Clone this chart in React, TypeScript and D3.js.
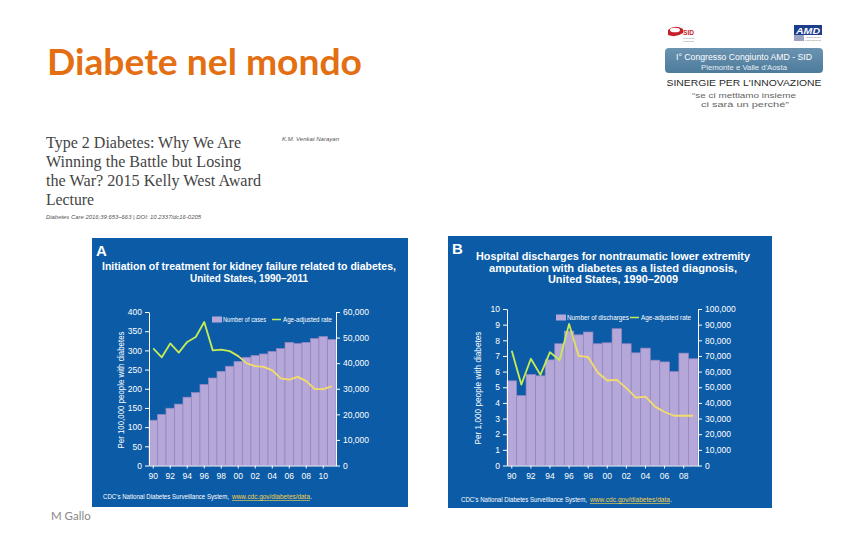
import React, { useEffect, useRef } from 'react';
import * as d3 from 'd3';

// Panel A: kidney failure treatment, 1990-2011
const yearsA = ['1990', '1991', '1992', '1993', '1994', '1995', '1996', '1997', '1998', '1999', '2000',
  '2001', '2002', '2003', '2004', '2005', '2006', '2007', '2008', '2009', '2010', '2011'];
const casesA = [17700, 20000, 22400, 24000, 26700, 28500, 31700, 34200, 36800, 38800, 40700,
  42300, 43000, 43600, 44600, 45700, 48100, 47700, 48100, 49600, 50400, 49300];
const rateA = [305, 282, 318, 294, 322, 335, 374, 300, 302, 298, 285,
  266, 259, 257, 248, 227, 224, 231, 220, 199, 199, 206];
const leftTicksA = [0, 50, 100, 150, 200, 250, 300, 350, 400];
const rightTicksA = [0, 10000, 20000, 30000, 40000, 50000, 60000];
const labelYearsA = ['1990', '1992', '1994', '1996', '1998', '2000', '2002', '2004', '2006', '2008', '2010'];

// Panel B: lower extremity amputation discharges, 1990-2009
const yearsB = ['1990', '1991', '1992', '1993', '1994', '1995', '1996', '1997', '1998', '1999', '2000',
  '2001', '2002', '2003', '2004', '2005', '2006', '2007', '2008', '2009'];
const dischargesB = [54100, 44700, 58100, 57300, 67500, 77800, 85900, 83500, 85300, 77800, 78400,
  87400, 77800, 72000, 75000, 67300, 66200, 60000, 71800, 68200];
const rateB = [7.33, 5.17, 6.82, 5.79, 7.24, 6.73, 9.04, 7.0, 6.92, 5.94, 5.43,
  5.47, 4.94, 4.34, 4.4, 3.76, 3.42, 3.18, 3.18, 3.18];
const leftTicksB = [0, 1, 2, 3, 4, 5, 6, 7, 8, 9, 10];
const rightTicksB = [0, 10000, 20000, 30000, 40000, 50000, 60000, 70000, 80000, 90000, 100000];
const labelYearsB = ['1990', '1992', '1994', '1996', '1998', '2000', '2002', '2004', '2006', '2008'];

const BLUE = '#0c5ba6';
const BAR = '#b5a7d7';
const BAR_EDGE = '#9485c2';
const GREEN = '#c4ec55';
const YELLOW = '#f3dc6a';
const SANS = '"Liberation Sans", Arial, sans-serif';

const fitText = (g, x, y, str, size, len, opts: any = {}) => {
  const t = g.append('text')
    .attr('x', x).attr('y', y)
    .attr('font-family', opts.family || SANS)
    .attr('font-size', size)
    .attr('font-weight', opts.weight || 'normal')
    .attr('font-style', opts.style || 'normal')
    .attr('fill', opts.fill || '#fff')
    .attr('text-anchor', opts.anchor || 'start')
    .text(str);
  if (len) t.attr('textLength', len).attr('lengthAdjust', 'spacingAndGlyphs');
  if (opts.deco) t.attr('text-decoration', opts.deco);
  return t;
};

const drawPanel = (svg, p) => {
  const g = svg.append('g');
  g.append('rect').attr('x', p.box[0]).attr('y', p.box[1])
    .attr('width', p.box[2] - p.box[0]).attr('height', p.box[3] - p.box[1]).attr('fill', BLUE);

  fitText(g, p.box[0] + 4, p.box[1] + 18, p.letter, 15, 0, { weight: 'bold' });
  p.title.forEach((line, i) => {
    fitText(g, p.titleX, p.titleY[i], line[0], 11.5, line[1], { weight: 'bold', anchor: 'middle' });
  });

  const x = d3.scaleBand().domain(p.years).range([p.plot[0], p.plot[2]]);
  const yL = d3.scaleLinear().domain([0, p.leftMax]).range([p.plot[3], p.plot[1]]);
  const yR = d3.scaleLinear().domain([0, p.rightMax]).range([p.plot[3], p.plot[1]]);
  const bw = x.bandwidth();

  // bars (right axis)
  g.selectAll('rect.bar')
    .data(p.bars)
    .enter()
    .append('rect')
    .attr('class', 'bar')
    .attr('x', (d, i) => x(p.years[i]))
    .attr('y', d => yR(d))
    .attr('width', bw)
    .attr('height', d => p.plot[3] - yR(d))
    .attr('fill', BAR)
    .attr('stroke', BAR_EDGE)
    .attr('stroke-width', 0.7);

  // green -> yellow gradient along the rate line
  const grad = svg.append('defs').append('linearGradient')
    .attr('id', 'grad' + p.letter)
    .attr('gradientUnits', 'userSpaceOnUse')
    .attr('x1', x(p.years[p.gradFrom]) + bw / 2).attr('x2', x(p.years[p.gradTo]) + bw / 2)
    .attr('y1', 0).attr('y2', 0);
  grad.append('stop').attr('offset', 0).attr('stop-color', GREEN);
  grad.append('stop').attr('offset', 1).attr('stop-color', YELLOW);

  const line = d3.line()
    .x((d, i) => x(p.years[i]) + bw / 2)
    .y(d => yL(d));
  g.append('path')
    .attr('d', line(p.rate))
    .attr('fill', 'none')
    .attr('stroke', 'url(#grad' + p.letter + ')')
    .attr('stroke-width', 1.8)
    .attr('stroke-linejoin', 'round');

  const styleAxis = a => {
    a.selectAll('path, line').attr('stroke', '#fff').attr('stroke-width', 1);
    a.selectAll('text').attr('fill', '#fff').attr('font-family', SANS).attr('font-size', 8.5);
    a.attr('font-family', SANS);
  };

  const left = g.append('g').attr('transform', `translate(${p.plot[0]},0)`)
    .call(d3.axisLeft(yL).tickValues(p.leftTicks).tickSize(4).tickSizeOuter(0).tickPadding(3));
  styleAxis(left);
  const right = g.append('g').attr('transform', `translate(${p.plot[2]},0)`)
    .call(d3.axisRight(yR).tickValues(p.rightTicks).tickSize(4).tickSizeOuter(0).tickPadding(3)
      .tickFormat(d3.format(',')));
  styleAxis(right);
  const bottom = g.append('g').attr('transform', `translate(0,${p.plot[3]})`)
    .call(d3.axisBottom(x).tickValues(p.labelYears).tickSize(3).tickSizeOuter(0).tickPadding(4)
      .tickFormat(d => d.slice(2)));
  styleAxis(bottom);

  // left axis title
  fitText(g, 0, 0, p.axisTitle, 8.5, p.axisTitleLen, { anchor: 'middle' })
    .attr('transform', `translate(${p.axisTitlePos[0]},${p.axisTitlePos[1]}) rotate(-90)`);

  // legend
  const lg = p.legend;
  g.append('rect').attr('x', lg.sw).attr('y', lg.y - 5.5).attr('width', 10).attr('height', 6).attr('fill', BAR);
  fitText(g, lg.sw + 11, lg.y, lg.barLabel, 7, lg.barLen);
  g.append('line').attr('x1', lg.lw).attr('x2', lg.lw + 9).attr('y1', lg.y - 2.5).attr('y2', lg.y - 2.5)
    .attr('stroke', GREEN).attr('stroke-width', 1.5);
  fitText(g, lg.lw + 11, lg.y, 'Age-adjusted rate', 7, lg.lineLen);

  // source
  fitText(g, p.footer[0], p.footer[1], "CDC's National Diabetes Surveillance System,", 6.5, p.footer[2]);
  fitText(g, p.footer[0] + p.footer[2] + 3, p.footer[1], 'www.cdc.gov/diabetes/data', 6.5, p.footer[3],
    { fill: '#f2d44a', deco: 'underline' });
  fitText(g, p.footer[0] + p.footer[2] + p.footer[3] + 3.5, p.footer[1], '.', 6.5, 0);
};

const App = () => {
  const ref = useRef(null);

  useEffect(() => {
    const svg = d3.select(ref.current);
    svg.selectAll('*').remove();

    svg.append('rect').attr('width', 851).attr('height', 540).attr('fill', '#fff');

    // slide title
    fitText(svg, 47, 75, 'Diabete nel mondo', 36, 315, { family: 'Lato, "Open Sans", sans-serif', weight: 'bold', fill: '#e36f12' });

    // article header
    const art = ['Type 2 Diabetes: Why We Are', 'Winning the Battle but Losing', 'the War? 2015 Kelly West Award', 'Lecture'];
    const artLen = [195, 195, 215, 48];
    art.forEach((s, i) => fitText(svg, 46, 148 + i * 19, s, 17, artLen[i], { family: '"Liberation Serif", serif', fill: '#444' }));
    fitText(svg, 282, 141, 'K.M. Venkat Narayan', 5.5, 57, { style: 'italic', fill: '#555' });
    fitText(svg, 46, 219, 'Diabetes Care 2016;39:653–663 | DOI: 10.2337/dc16-0205', 5.5, 155, { style: 'italic', fill: '#555' });

    // congress logos
    const lg = svg.append('g');
    lg.append('path').attr('d', 'M668,30 Q675,24 683,29 L683,33 Q676,38 668,35 Z').attr('fill', '#c8202a');
    lg.append('ellipse').attr('cx', 675).attr('cy', 30).attr('rx', 5).attr('ry', 2.3).attr('fill', '#fff');
    fitText(lg, 683, 35, 'SID', 8, 11, { weight: 'bold', fill: '#c8202a' });
    fitText(lg, 683, 39, 'Società Italiana', 2.5, 11, { fill: '#777' });
    fitText(lg, 683, 42, 'di Diabetologia', 2.5, 11, { fill: '#777' });
    lg.append('rect').attr('x', 794).attr('y', 25).attr('width', 28).attr('height', 10).attr('fill', '#1d3e8c');
    fitText(lg, 796, 34, 'AMD', 9, 24, { weight: 'bold', style: 'italic', fill: '#fff' });
    lg.append('rect').attr('x', 794).attr('y', 35).attr('width', 10).attr('height', 6).attr('fill', '#9aa3c0');
    fitText(lg, 805, 38, 'Associazione', 2.5, 16, { fill: '#777' });
    fitText(lg, 805, 41, 'Medici Diabetologi', 2.5, 16, { fill: '#777' });
    const cg = svg.append('defs').append('linearGradient').attr('id', 'cong').attr('x1', 0).attr('x2', 0).attr('y1', 0).attr('y2', 1);
    cg.append('stop').attr('offset', 0).attr('stop-color', '#6b93b1');
    cg.append('stop').attr('offset', 1).attr('stop-color', '#4d7b9c');
    lg.append('rect').attr('x', 665).attr('y', 48).attr('width', 158).attr('height', 25).attr('rx', 4).attr('fill', 'url(#cong)');
    fitText(lg, 744, 60, 'I° Congresso Congiunto AMD - SID', 8.5, 136, { anchor: 'middle', fill: '#fff' });
    fitText(lg, 744, 70, "Piemonte e Valle d'Aosta", 6.5, 86, { anchor: 'middle', fill: '#e6eef4' });
    fitText(lg, 744, 86, "SINERGIE PER L'INNOVAZIONE", 9.5, 155, { anchor: 'middle', fill: '#2a2a2a' });
    fitText(lg, 744, 98, '“se ci mettiamo insieme', 8, 104, { anchor: 'middle', fill: '#666' });
    fitText(lg, 745, 107, 'ci sarà un perché”', 8, 88, { anchor: 'middle', fill: '#666' });

    fitText(svg, 51, 520, 'M Gallo', 11.5, 0, { family: 'Lato, sans-serif', fill: '#888' });

    drawPanel(svg, {
      letter: 'A',
      box: [92, 238, 408, 507],
      titleX: 249,
      titleY: [270, 282],
      title: [['Initiation of treatment for kidney failure related to diabetes,', 294], ['United States, 1990–2011', 118]],
      years: yearsA,
      bars: casesA,
      rate: rateA,
      leftMax: 400,
      rightMax: 60000,
      leftTicks: leftTicksA,
      rightTicks: rightTicksA,
      labelYears: labelYearsA,
      plot: [149, 312, 336, 465.5],
      gradFrom: 9,
      gradTo: 11,
      axisTitle: 'Per 100,000 people with diabetes',
      axisTitleLen: 117,
      axisTitlePos: [124, 390],
      legend: { y: 322, sw: 212, lw: 272, barLabel: 'Number of cases', barLen: 43, lineLen: 49 },
      footer: [103, 499, 126, 78],
    });

    drawPanel(svg, {
      letter: 'B',
      box: [448, 236, 772, 508],
      titleX: 613,
      titleY: [260, 272, 283],
      title: [['Hospital discharges for nontraumatic lower extremity', 274],
        ['amputation with diabetes as a listed diagnosis,', 248], ['United States, 1990–2009', 130]],
      years: yearsB,
      bars: dischargesB,
      rate: rateB,
      leftMax: 10,
      rightMax: 100000,
      leftTicks: leftTicksB,
      rightTicks: rightTicksB,
      labelYears: labelYearsB,
      plot: [507, 309, 698, 465.5],
      gradFrom: 6,
      gradTo: 7,
      axisTitle: 'Per 1,000 people with diabetes',
      axisTitleLen: 113,
      axisTitlePos: [481, 388],
      legend: { y: 320, sw: 556, lw: 630, barLabel: 'Number of discharges', barLen: 62, lineLen: 50 },
      footer: [461, 502, 126, 80],
    });
  }, []);

  return (
    <svg ref={ref} width={851} height={540} style={{ position: 'absolute', left: 0, top: 0 }} />
  );
};

export default App;
